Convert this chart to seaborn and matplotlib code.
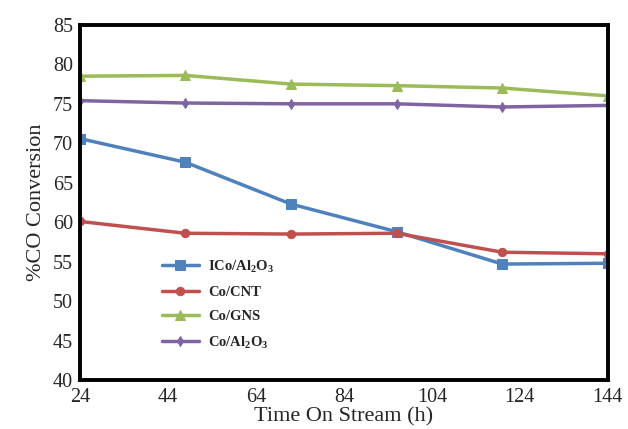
import numpy as np
import pandas as pd
import matplotlib
matplotlib.use('Agg')
import matplotlib.pyplot as plt
import seaborn as sns

# data
hours = [24, 48, 72, 96, 120, 144]
ico_al2o3 = [70.6, 67.6, 62.3, 58.8, 54.7, 54.8]
co_cnt = [60.1, 58.6, 58.5, 58.6, 56.2, 56.0]
co_gns = [78.5, 78.6, 77.5, 77.3, 77.0, 76.0]
co_al2o3 = [75.4, 75.1, 75.0, 75.0, 74.6, 74.8]

names = [r'ICo/Al$_\mathbf{2}$O$_\mathbf{3}$', 'Co/CNT', 'Co/GNS',
         r'Co/Al$_\mathbf{2}$O$_\mathbf{3}$']
colors = ['#4F81BD', '#C0504D', '#9BBB59', '#8064A2']
markers = ['s', 'o', '^', 'd']
sizes = [7, 6, 7, 5]

df = pd.DataFrame({
    'time': hours * 4,
    'conv': ico_al2o3 + co_cnt + co_gns + co_al2o3,
    'series': sum([[n] * len(hours) for n in names], []),
})

sns.set_style('white')
plt.rcParams['font.family'] = ['Liberation Serif', 'DejaVu Serif']
plt.rcParams['mathtext.fontset'] = 'custom'
plt.rcParams['mathtext.rm'] = 'Liberation Serif'
plt.rcParams['mathtext.bf'] = 'Liberation Serif:bold'

fig = plt.figure(figsize=(6.28, 4.29), dpi=100)
ax = fig.add_axes([0.127, 0.114, 0.841, 0.828])

for n, c, m, s in zip(names, colors, markers, sizes):
    sub = df[df['series'] == n]
    sns.lineplot(data=sub, x='time', y='conv', ax=ax, color=c, marker=m,
                 markersize=s, markeredgecolor=c, linewidth=2.5, label=n)

ax.set_xlim(24, 144)
ax.set_ylim(40, 85)
ax.set_xticks(np.arange(24, 145, 20))
ax.set_yticks(np.arange(40, 86, 5))
ax.tick_params(length=0, labelsize=14.5)
ax.tick_params(axis='x', pad=6)
ax.tick_params(axis='y', pad=5)
ax.set_xlabel('Time On Stream (h)', fontsize=16, labelpad=0)
ax.set_ylabel('%CO Conversion', fontsize=16, labelpad=5)
for sp in ax.spines.values():
    sp.set_color('black')
    sp.set_linewidth(2.8)

leg = ax.legend(loc='lower left', bbox_to_anchor=(0.13, 0.045), frameon=False,
                prop={'weight': 'bold', 'size': 10.5}, handlelength=2.6,
                labelspacing=0.75, handletextpad=0.6)

fig.savefig('out.png', dpi=100)
